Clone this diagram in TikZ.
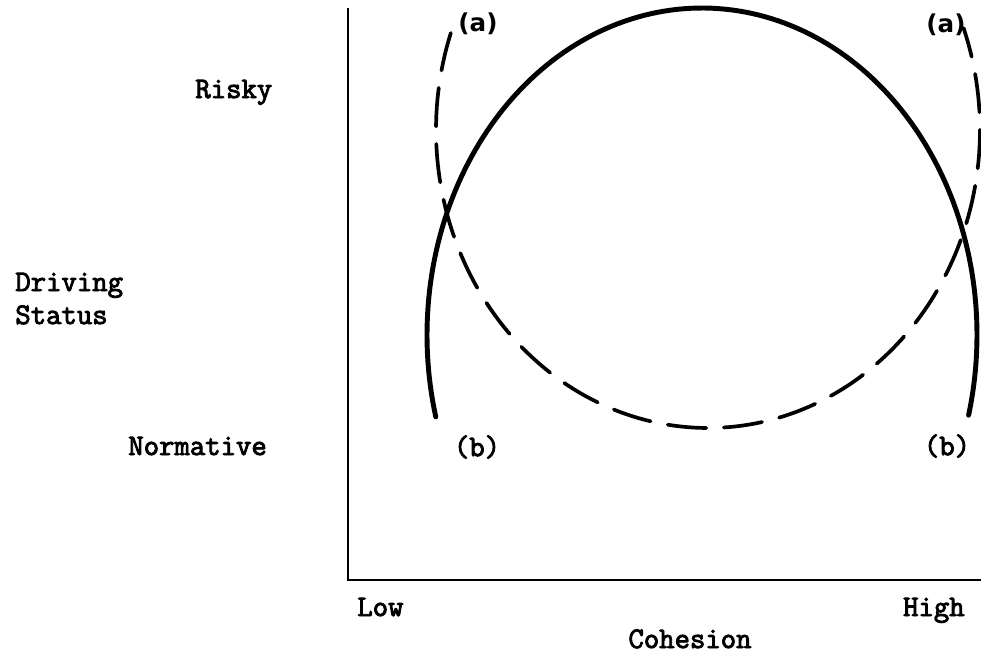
\documentclass[tikz,border=0pt]{standalone}
\usepackage{fontspec}
\newfontfamily\tagfont{DejaVu Sans}
\newfontfamily\typefont[FakeBold=3]{Latin Modern Mono}
\tikzset{
  axislabel/.style={font=\typefont\fontsize{17}{20}\selectfont, inner sep=0pt},
  atag/.style={font=\tagfont\bfseries\fontsize{14}{16}\selectfont, inner sep=0pt},
  btag/.style={font=\typefont\fontsize{17}{20}\selectfont, inner sep=0pt},
  axisline/.style={line width=1.3pt},
  solidcurve/.style={line width=2.8pt, line cap=round},
  dashcurve/.style={line width=2.1pt, line cap=round, dash pattern=on 22pt off 10pt},
}

\begin{document}
\begin{tikzpicture}[x=0.02cm, y=-0.02cm]
    \useasboundingbox (0,0) rectangle (981,660);
    % axes
    \coordinate (ytop) at (348,8);
    \coordinate (origin) at (348,580);
    \coordinate (xend) at (981,580);
    \draw[axisline] (ytop) -- (origin) -- (xend);
    % curves
    \draw[solidcurve] plot[domain=165.5:374.2, samples=150]
      ({702+275*cos(\x)}, {335+327*sin(\x)});
    \draw[dashcurve] plot[domain=199:-20, samples=150]
      ({708+272*cos(\x)}, {130+298*sin(\x)});
    % curve tags
    \node[atag] (aleft) at (478,24) {(a)};
    \node[atag] (aright) at (946,25) {(a)};
    \node[btag] (bleft) at (477,447) {(b)};
    \node[btag] (bright) at (947,446) {(b)};
    % axis labels
    \node[axislabel, anchor=base west] (risky) at (195,98) {Risky};
    \node[axislabel, anchor=base west] (driving) at (15,291) {Driving};
    \node[axislabel, anchor=base west] (status) at (15,324) {Status};
    \node[axislabel, anchor=base west] (normative) at (128,455) {Normative};
    \node[axislabel, anchor=base west] (low) at (357,616) {Low};
    \node[axislabel, anchor=base east] (high) at (965,616) {High};
    \node[axislabel, anchor=base] (cohesion) at (690,648) {Cohesion};
\end{tikzpicture}
\end{document}
